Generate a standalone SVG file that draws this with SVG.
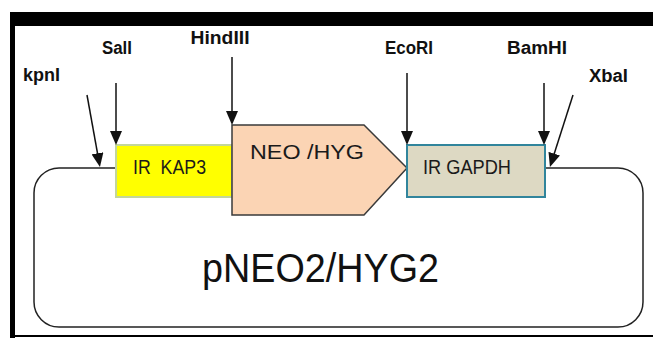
<svg xmlns="http://www.w3.org/2000/svg" width="653" height="338" viewBox="0 0 653 338">
  <style>
    .site { font-family: "Liberation Sans", Arial, sans-serif; font-weight: bold; font-size: 18px; fill: #111; }
    .box-label { font-family: "Liberation Sans", Arial, sans-serif; font-size: 19.5px; fill: #1a1a1a; }
    .cut { stroke: #111; stroke-width: 1.5; fill: none; marker-end: url(#head); }
  </style>
  <defs>
    <marker id="head" markerUnits="userSpaceOnUse" viewBox="0 0 14 12" refX="4" refY="6" markerWidth="14" markerHeight="12" orient="auto">
      <path d="M0,0 L14,6 L0,12 Z" fill="#111"/>
    </marker>
  </defs>

  <rect width="653" height="338" fill="#fff"/>

  <!-- frame -->
  <g id="frame" fill="#000">
    <rect x="10" y="12" width="643" height="14"/>
    <rect x="10" y="12" width="5" height="326"/>
    <rect x="10" y="335" width="643" height="2"/>
  </g>

  <!-- plasmid backbone -->
  <g id="plasmid">
    <rect x="34" y="168" width="609" height="159" rx="25" ry="25" fill="none" stroke="#222" stroke-width="1.5"/>
    <text x="202" y="282" font-family="'Liberation Sans', Arial, sans-serif" font-size="41" fill="#111" textLength="237" lengthAdjust="spacingAndGlyphs">pNEO2/HYG2</text>
  </g>

  <g id="ir-kap3">
    <rect x="116" y="145" width="116" height="52" fill="#ffff00" stroke="#c3d69b" stroke-width="2"/>
    <text class="box-label" x="133" y="174" textLength="73" lengthAdjust="spacingAndGlyphs">IR&#160; KAP3</text>
  </g>

  <g id="neo-hyg">
    <path d="M232,125 L364,125 L407,168 L364,215 L232,215 Z" fill="#fbd4b4" stroke="#3a3a3a" stroke-width="1.5"/>
    <text class="box-label" x="250" y="159" font-size="25" textLength="114" lengthAdjust="spacingAndGlyphs">NEO /HYG</text>
  </g>

  <g id="ir-gapdh">
    <rect x="407" y="145" width="138" height="52" fill="#ddd9c3" stroke="#31859c" stroke-width="2"/>
    <text class="box-label" x="423" y="174" textLength="88" lengthAdjust="spacingAndGlyphs">IR GAPDH</text>
  </g>

  <!-- restriction site labels -->
  <g id="kpni"><text class="site" x="23" y="81" textLength="37" lengthAdjust="spacingAndGlyphs">kpnI</text></g>
  <g id="sali"><text class="site" x="102" y="54" textLength="30" lengthAdjust="spacingAndGlyphs">SalI</text></g>
  <g id="hindiii"><text class="site" x="190.5" y="44" textLength="59" lengthAdjust="spacingAndGlyphs">HindIII</text></g>
  <g id="ecori"><text class="site" x="385" y="54" textLength="48" lengthAdjust="spacingAndGlyphs">EcoRI</text></g>
  <g id="bamhi"><text class="site" x="507" y="54" textLength="60" lengthAdjust="spacingAndGlyphs">BamHI</text></g>
  <g id="xbai"><text class="site" x="589" y="82" textLength="39" lengthAdjust="spacingAndGlyphs">XbaI</text></g>

  <!-- cut-site arrows -->
  <g id="connectors">
    <line class="cut" x1="87" y1="95" x2="98.2" y2="157.2"/>
    <line class="cut" x1="116" y1="83" x2="116" y2="135"/>
    <line class="cut" x1="232" y1="57" x2="232" y2="115"/>
    <line class="cut" x1="407" y1="73" x2="407" y2="135"/>
    <line class="cut" x1="544" y1="83" x2="544" y2="135"/>
    <line class="cut" x1="573" y1="95" x2="553" y2="157.5"/>
  </g>
</svg>
